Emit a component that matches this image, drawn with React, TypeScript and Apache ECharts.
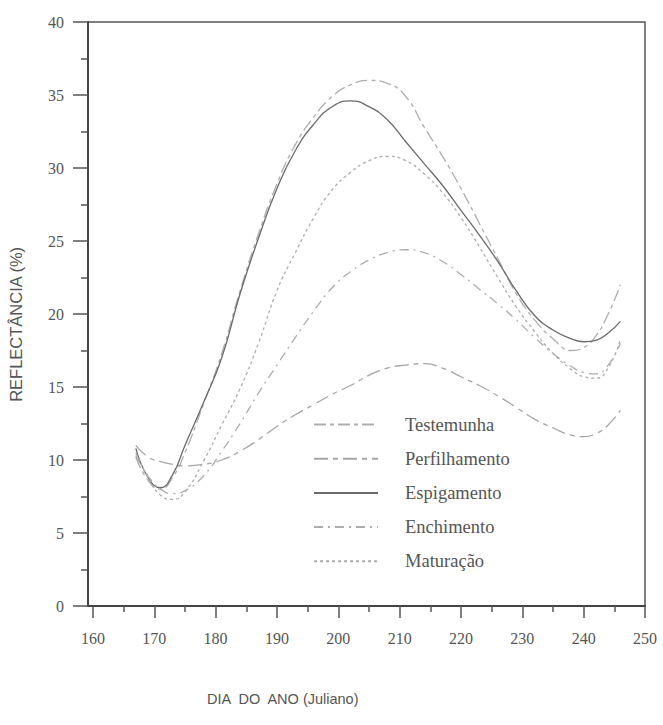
import React, { useEffect, useRef } from "react";
import * as echarts from "echarts";

const days = [167, 169, 171, 173, 175, 178, 181, 184, 187, 190, 193, 196, 199, 202, 205, 208, 211, 214, 217, 220, 223, 226, 229, 232, 235, 238, 240, 242, 244, 246];

const testemunha = [10.2, 8.6, 8.0, 8.8, 10.5, 13.8, 17.3, 21.6, 25.5, 28.9, 31.6, 33.5, 34.9, 35.7, 36.0, 35.8, 34.9, 32.8, 30.8, 28.6, 26.2, 23.8, 21.4, 19.6, 18.3, 17.5, 17.7, 18.5, 20.0, 22.0];
const perfilhamento = [11.0, 10.2, 9.9, 9.7, 9.6, 9.7, 10.0, 10.6, 11.4, 12.3, 13.1, 13.8, 14.5, 15.1, 15.8, 16.3, 16.5, 16.6, 16.3, 15.7, 15.1, 14.4, 13.6, 12.8, 12.2, 11.7, 11.6, 11.8, 12.4, 13.4];
const espigamento = [10.8, 8.8, 8.1, 9.0, 11.0, 13.9, 17.0, 21.4, 25.2, 28.6, 31.2, 33.0, 34.2, 34.6, 34.2, 33.3, 31.8, 30.3, 28.8, 27.1, 25.4, 23.6, 21.6, 19.9, 18.9, 18.3, 18.1, 18.2, 18.7, 19.5];
const enchimento = [10.3, 8.9, 8.0, 7.7, 7.9, 8.9, 10.6, 12.5, 14.6, 16.5, 18.4, 20.2, 21.8, 22.9, 23.7, 24.2, 24.4, 24.2, 23.6, 22.7, 21.7, 20.7, 19.6, 18.4, 17.3, 16.4, 16.0, 15.9, 16.5, 18.0];
const maturacao = [10.5, 8.8, 7.6, 7.3, 7.8, 9.9, 12.4, 14.9, 18.0, 21.6, 24.2, 26.6, 28.5, 29.7, 30.5, 30.8, 30.5, 29.6, 28.3, 26.6, 24.6, 22.5, 20.5, 18.8, 17.3, 16.2, 15.7, 15.6, 16.3, 18.3];

const seriesNames = ["Testemunha", "Perfilhamento", "Espigamento", "Enchimento", "Maturação"];
const xMajorTicks = [160, 170, 180, 190, 200, 210, 220, 230, 240, 250];
const xMinorTicks = [165, 175, 185, 195, 205, 215, 225, 235, 245];

const serif = "'Liberation Serif', 'Times New Roman', serif";
const sans = "'Liberation Sans', Arial, sans-serif";

export default function App() {
  const ref = useRef<HTMLDivElement>(null);
  useEffect(() => {
    if (!ref.current) return;
    const chart = echarts.init(ref.current, undefined, { renderer: "svg" });
    const values = [testemunha, perfilhamento, espigamento, enchimento, maturacao];
    const styles = [
      { color: "#adadad", width: 1.3, type: [12, 4, 4, 4] },
      { color: "#a6a6a6", width: 1.3, type: [14, 5, 5, 5] },
      { color: "#6a6a6a", width: 1.3, type: "solid" },
      { color: "#adadad", width: 1.3, type: [9, 5, 2, 5] },
      { color: "#adadad", width: 1.3, type: [3, 3] },
    ];
    const series = seriesNames.map((name, i) => ({
      name,
      type: "line",
      xAxisIndex: 0,
      smooth: true,
      showSymbol: false,
      symbol: "none",
      lineStyle: styles[i],
      itemStyle: { color: styles[i].color },
      data: days.map((d, j) => [d, values[i][j]]),
    }));
    chart.setOption({
      animation: false,
      backgroundColor: "#ffffff",
      grid: {
        left: 88,
        top: 22,
        right: 18,
        bottom: 119,
        show: true,
        borderColor: "#555",
        borderWidth: 1.5,
        backgroundColor: "transparent",
      },
      legend: {
        orient: "vertical",
        left: 308,
        top: 410,
        itemWidth: 64,
        itemHeight: 18,
        itemGap: 15.2,
        data: seriesNames,
        itemStyle: { opacity: 0 },
        textStyle: {
          fontFamily: serif,
          fontSize: 18.5,
          color: "#555",
          padding: [0, 0, 0, 22],
        },
      },
      xAxis: [
        {
          type: "value",
          min: 159.2,
          max: 250,
          position: "bottom",
          axisLine: { show: true, onZero: false, lineStyle: { color: "#444", width: 2 } },
          axisTick: { show: true, customValues: xMajorTicks, length: 12, lineStyle: { color: "#555", width: 1.5 } },
          axisLabel: { customValues: xMajorTicks, margin: 24, fontFamily: serif, fontSize: 16, color: "#555" },
          splitLine: { show: false },
        },
        {
          type: "value",
          min: 159.2,
          max: 250,
          position: "bottom",
          offset: 0,
          axisLine: { show: false },
          axisTick: { show: true, customValues: xMinorTicks, length: 6, lineStyle: { color: "#555", width: 1.5 } },
          axisLabel: { show: false },
          splitLine: { show: false },
        },
      ],
      yAxis: {
        type: "value",
        min: 0,
        max: 40,
        interval: 5,
        axisLine: { show: true, lineStyle: { color: "#444", width: 2 } },
        axisTick: { show: true, length: 15, lineStyle: { color: "#555", width: 1.5 } },
        minorTick: { show: true, splitNumber: 2, length: 7, lineStyle: { color: "#555", width: 1.5 } },
        axisLabel: { margin: 24, fontFamily: serif, fontSize: 16, color: "#555" },
        splitLine: { show: false },
      },
      graphic: [
        {
          type: "text",
          left: 7,
          top: 246,
          rotation: Math.PI / 2,
          style: {
            text: "REFLECTÂNCIA (%)",
            font: `16.5px ${sans}`,
            fill: "#555",
          },
        },
        {
          type: "text",
          left: 207,
          top: 691,
          style: {
            text: "DIA  DO  ANO (Juliano)",
            font: `14.5px ${sans}`,
            fill: "#555",
          },
        },
      ],
      series,
    });
    return () => chart.dispose();
  }, []);
  return (
    <div style={{ position: "fixed", left: 0, top: 0, width: 663, height: 725, overflow: "hidden" }}>
      <div ref={ref} style={{ width: 663, height: 725 }} />
    </div>
  );
}
